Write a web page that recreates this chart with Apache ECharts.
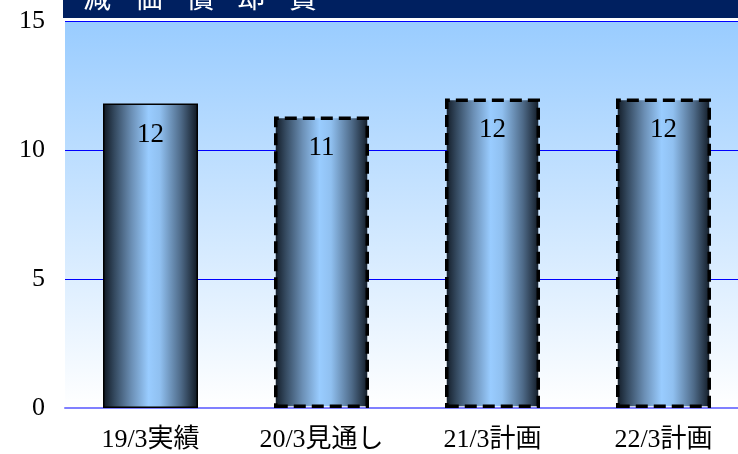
<!DOCTYPE html>
<html><head><meta charset="utf-8">
<script src="https://cdn.jsdelivr.net/npm/echarts@6/dist/echarts.min.js"></script>
<style>html,body{margin:0;padding:0;background:#fff}#c{width:738px;height:454px}</style>
</head><body><div id="c"></div>
<script>
var titleText = '減価償却費';
var categories = ['19/3実績', '20/3見通し', '21/3計画', '22/3計画'];
var values = [11.8, 11.3, 12.0, 12.0];
var dashed = [false, true, true, true];
var yTicks = [0, 5, 10, 15];

var chart = echarts.init(document.getElementById('c'), null, {renderer: 'canvas'});
var barGrad = new echarts.graphic.LinearGradient(0, 0, 1, 0, [
  {offset: 0, color: '#0e1620'},
  {offset: 0.12, color: '#34495f'},
  {offset: 0.3, color: '#6b8fb5'},
  {offset: 0.48, color: '#99ccff'},
  {offset: 0.6, color: '#90c0f0'},
  {offset: 0.82, color: '#4e6a88'},
  {offset: 1, color: '#0e1620'}
]);
var data = values.map(function (v, i) {
  return {
    value: v,
    itemStyle: dashed[i]
      ? {borderColor: '#000', borderWidth: 3.5, borderType: [12, 6]}
      : {borderColor: '#000', borderWidth: 1.5, borderType: 'solid'}
  };
});
var titleGraphics = [{
  type: 'rect', left: 63, top: 0, shape: {width: 675, height: 18}, style: {fill: '#002060'}, z: 100
}];
titleText.split('').forEach(function (ch, i) {
  titleGraphics.push({
    type: 'text', left: 83 + i * 51.5, top: -17, z: 101,
    style: {text: ch, fill: '#ffffff', font: '28px "Noto Sans CJK JP"'}
  });
});
chart.setOption({
  animation: false,
  grid: {
    left: 65, width: 684, top: 21, bottom: 46, show: true, borderWidth: 0,
    containLabel: false, outerBoundsMode: 'none',
    backgroundColor: new echarts.graphic.LinearGradient(0, 0, 0, 1, [
      {offset: 0, color: '#99ccff'},
      {offset: 1, color: '#ffffff'}
    ])
  },
  xAxis: {
    type: 'category', data: categories,
    axisLine: {lineStyle: {color: '#8080ff', width: 2}},
    axisTick: {show: false},
    axisLabel: {margin: 19, color: '#000', fontSize: 26, fontFamily: '"Liberation Serif", "Noto Sans CJK JP"'}
  },
  yAxis: {
    type: 'value', min: yTicks[0], max: yTicks[yTicks.length - 1], interval: yTicks[1] - yTicks[0],
    axisLine: {show: false}, axisTick: {show: false},
    splitLine: {lineStyle: {color: '#0000ff', width: 1}},
    axisLabel: {margin: 20, color: '#000', fontSize: 26, fontFamily: '"Liberation Serif"'}
  },
  series: [{
    type: 'bar', data: data, barWidth: 95,
    itemStyle: {color: barGrad},
    label: {
      show: true, position: 'insideTop', distance: 18, color: '#000',
      fontSize: 27, fontFamily: '"Liberation Serif"',
      formatter: function (p) { return Math.round(p.value); }
    }
  }],
  graphic: titleGraphics.concat([
    {type: 'rect', left: 63, top: 18, shape: {width: 675, height: 1.5}, style: {fill: '#ffffff'}, z: 100}
  ])
});
</script></body></html>
